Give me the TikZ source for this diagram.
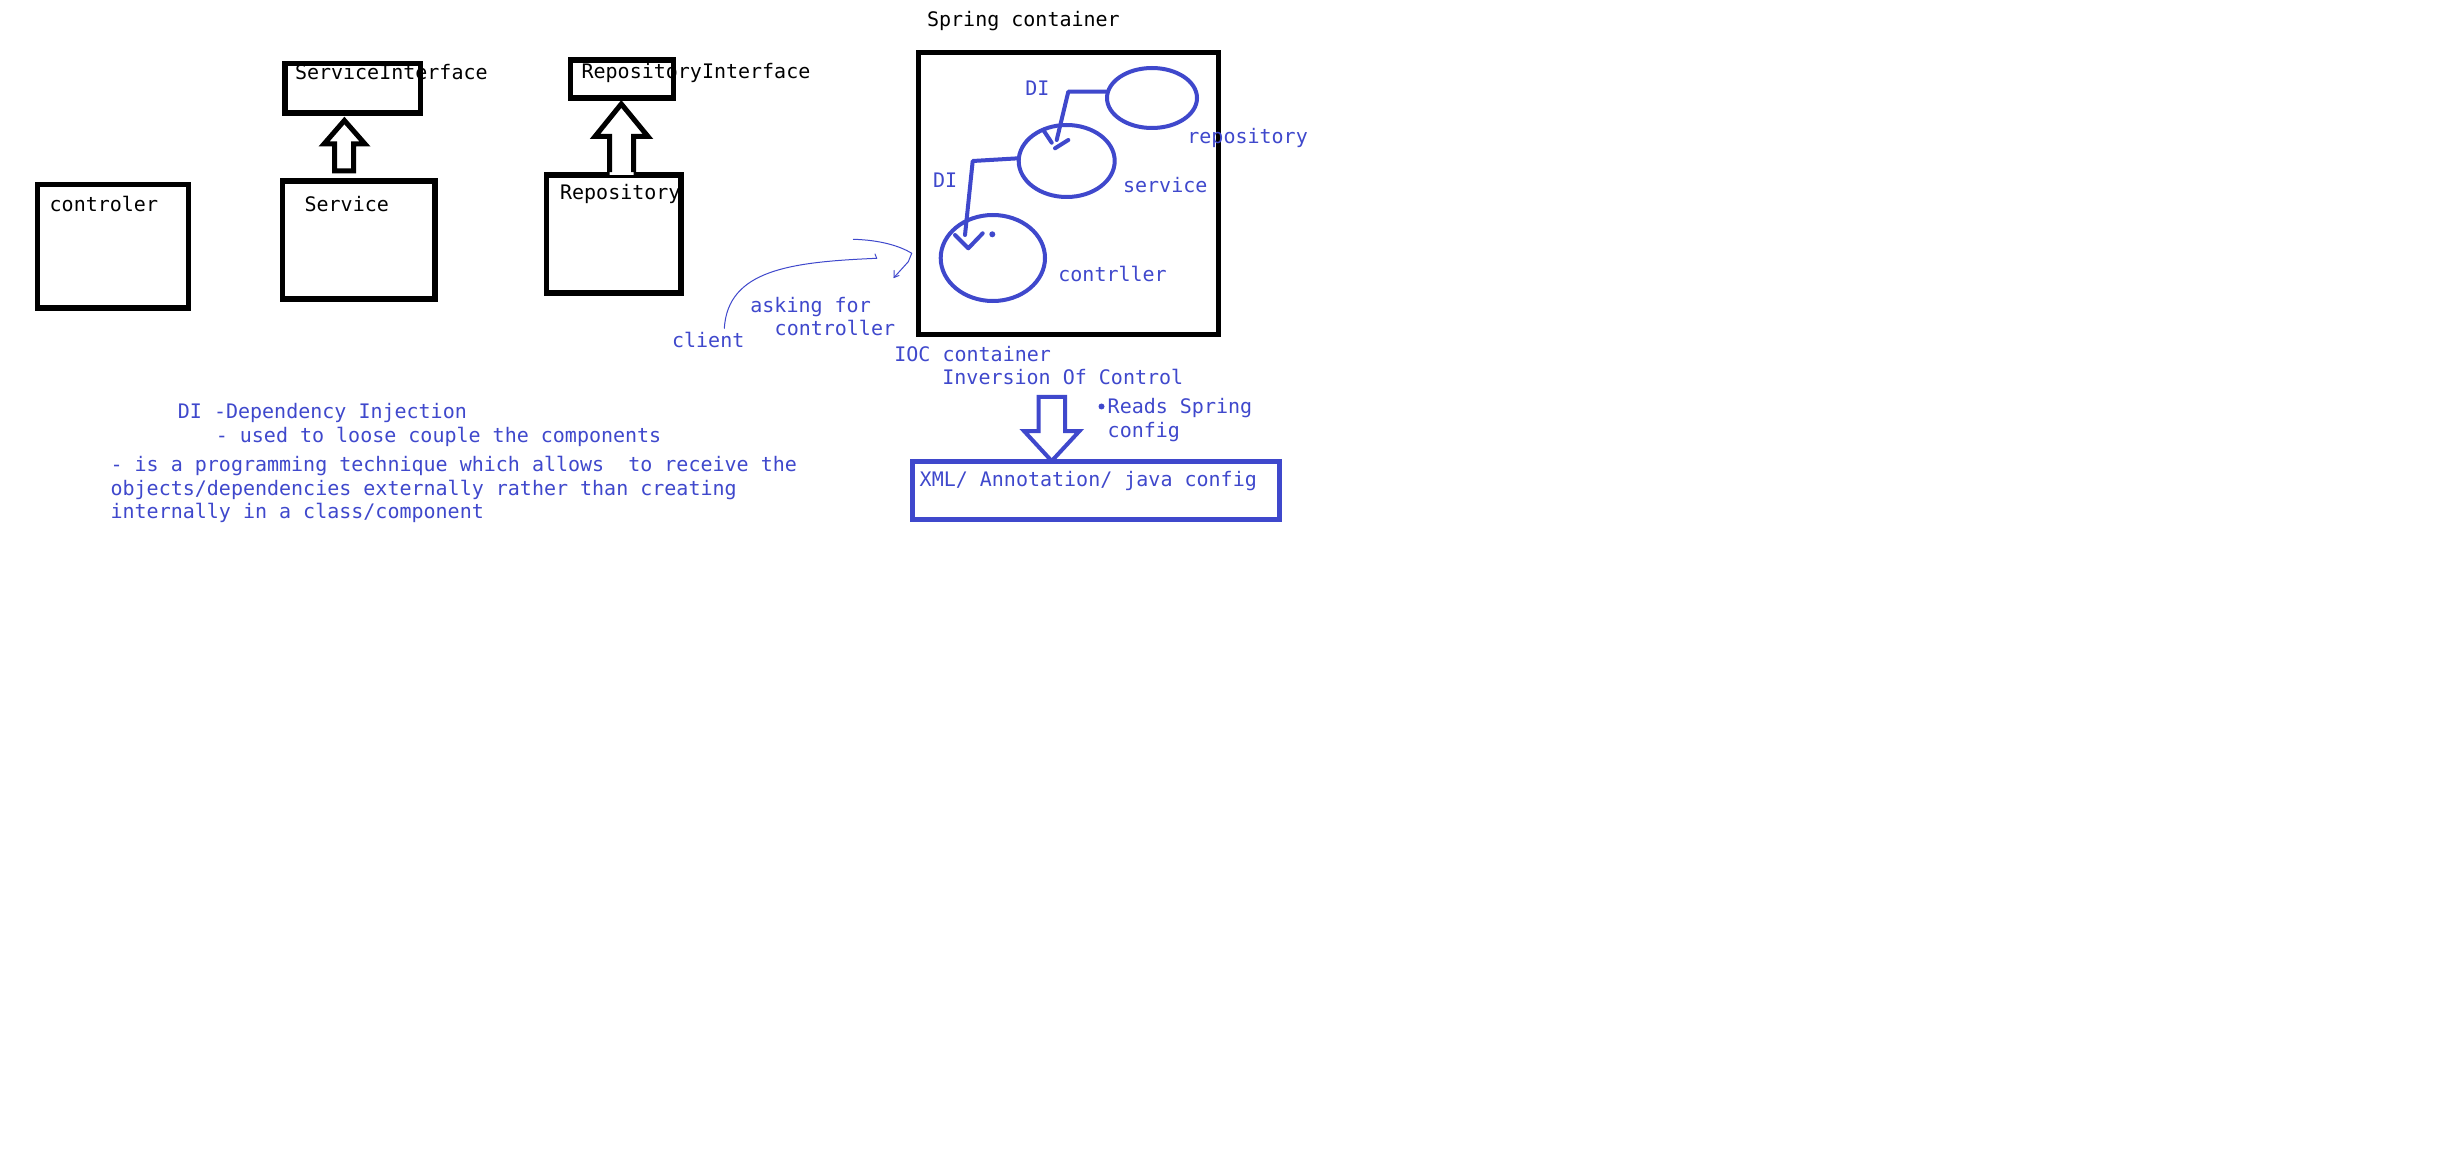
\documentclass[tikz,border=0pt]{standalone}
\usepackage{fontspec}
\newfontfamily\mono{DejaVu Sans Mono}
\usetikzlibrary{shapes.geometric}
\definecolor{paintblue}{RGB}{63,72,204}
\begin{document}
\begin{tikzpicture}[x=0.5pt,y=-0.5pt,
  txt/.style={anchor=base west,inner sep=0pt,font=\mono\fontsize{10pt}{12pt}\selectfont},
  btxt/.style={txt,text=black},
  ltxt/.style={txt,text=paintblue},
  blackbox/.style={draw=black,line width=2.75pt,rectangle,inner sep=0pt},
  bean/.style={draw=paintblue,line width=2pt,ellipse,inner sep=0pt},
  di/.style={draw=paintblue,line width=2pt,line cap=round,line join=round},
  thin/.style={draw=paintblue,line width=0.5pt,line cap=round},
  hollow/.style={draw=black,line width=2.5pt,line join=miter,fill=white}]
\fill[white] (0,0) rectangle (2440,1176);
\useasboundingbox (0,0) rectangle (2440,1176);

% ---- classes on the left ----
\node[btxt] (tctrl) at (49.3,211.7) {controler};
\node[btxt] (tsvc) at (304.2,211.7) {Service};
\node[btxt] (tsvcif) at (294.6,80) {ServiceInterface};
\node[btxt] (trepoif) at (581.2,78.3) {RepositoryInterface};
\node[btxt] (trepo) at (559.7,199.3) {Repository};

\node[blackbox,minimum width=75.5pt,minimum height=61.75pt] (ctrlbox) at (113,246.25) {};
\node[blackbox,minimum width=76.2pt,minimum height=59pt] (svcbox) at (358.6,240) {};
\node[blackbox,minimum width=67.65pt,minimum height=24.65pt] (svcif) at (352.65,88.35) {};
\node[blackbox,minimum width=51.6pt,minimum height=19pt] (repoif) at (622.1,79) {};
\node[blackbox,minimum width=67.4pt,minimum height=59pt] (repobox) at (613.8,234) {};

% hollow "implements" arrows
\coordinate (sTip) at (344.4,120.5);
\draw[hollow] (sTip) -- (324,144) -- (334.5,144) -- (334.5,171) -- (353.5,171)
  -- (353.5,144) -- (365,144) -- cycle;
\coordinate (rTip) at (621.3,104);
\fill[white] (rTip) -- (595,136.5) -- (609.5,136.5) -- (609.5,175) -- (633.5,175)
  -- (633.5,136.5) -- (648,136.5) -- cycle;
\draw[hollow,fill=none] (609.5,175 |- repobox.north) -- (609.5,136.5) -- (595,136.5) -- (rTip)
  -- (648,136.5) -- (633.5,136.5) -- (633.5,175 |- repobox.north);

% ---- Spring container ----
\node[btxt] (tspring) at (926.7,27) {Spring container};
\node[draw=black,line width=2.5pt,rectangle,inner sep=0pt,minimum width=149.75pt,minimum height=141pt] (spring) at (1068.25,193.5) {};

\node[bean,minimum width=45pt,minimum height=30pt] (repoE) at (1152,98) {};
\node[bean,minimum width=48pt,minimum height=36pt] (svcE) at (1066.7,161) {};
\node[bean,minimum width=52.15pt,minimum height=43pt] (ctrlE) at (992.85,258) {};

\node[ltxt] (trepoE) at (1187,144) {repository};
\node[ltxt] (tsvcE) at (1122.7,192.7) {service};
\node[ltxt] (tctrlE) at (1058,281.7) {contrller};
\node[ltxt] (tdi1) at (1025,96) {DI};
\node[ltxt] (tdi2) at (932.7,187.3) {DI};

% dependency injection links
\coordinate (di1end) at (1056.7,140);
\draw[di] (repoE.172) -- (1068.3,91.7) -- (di1end);
\draw[di] (1043.3,130) -- (1051.7,142.7);
\draw[di] (1055,148.3) -- (1068.3,140);
\coordinate (di2end) at (965,235);
\draw[di] (svcE.177) -- (972.7,161) -- (di2end);
\draw[di] (955,235) -- (968.3,248.3) -- (982.7,233.3);
\fill[paintblue] (992.3,234.3) circle[radius=3];

% client request
\node[ltxt] (tclient) at (671.7,347.7) {client};
\node[ltxt] (task1) at (750,312.7) {asking for};
\node[ltxt] (task2) at (774.3,335.7) {controller};
\coordinate (cStart) at (724.3,328.3);
\coordinate (cEnd) at (876.7,258.3);
\draw[thin] (cStart) .. controls (728,270) and (790,262) .. (cEnd);
\draw[thin] (cEnd) -- (875,254);
\coordinate (rStart) at (853.3,239.3);
\coordinate (rEnd) at (894,277.5);
\draw[thin] (rStart) .. controls (880,240) and (900,246) .. (911.7,253.3);
\draw[thin] (911.7,253.3) -- (908.3,261.7) -- (rEnd);
\draw[thin] (894,270.5) -- (rEnd) -- (899,275.5);

% ---- IOC container and configuration ----
\node[ltxt] (tioc) at (894,361.7) {IOC container};
\node[ltxt] (tinv) at (942,385) {Inversion Of Control};
\fill[paintblue] (1101.5,406.5) circle[radius=3];
\node[ltxt] (treads) at (1107.3,413.3) {Reads Spring};
\node[ltxt] (tconf) at (1107.3,437.3) {config};
\node[draw=paintblue,line width=2.5pt,rectangle,inner sep=0pt,minimum width=183.5pt,minimum height=29pt] (xml) at (1095.5,490) {};
\node[ltxt] (txml) at (919.3,486) {XML/ Annotation/ java config};
\draw[di,line cap=butt,line join=miter] (1038.5,431) -- (1038.5,397) -- (1065,397) -- (1065,431)
  -- (1079.5,431) -- (1051.7,461) -- (1024,431) -- cycle;

% ---- notes ----
\node[ltxt] (n1) at (177.5,418.3) {DI -Dependency Injection};
\node[ltxt] (n2) at (215.4,442.3) {- used to loose couple the components};
\node[ltxt] (n3) at (110.2,471) {- is a programming technique which allows\ \ to receive the};
\node[ltxt] (n4) at (110.2,495) {objects/dependencies externally rather than creating};
\node[ltxt] (n5) at (110.2,518.3) {internally in a class/component};
\end{tikzpicture}
\end{document}
